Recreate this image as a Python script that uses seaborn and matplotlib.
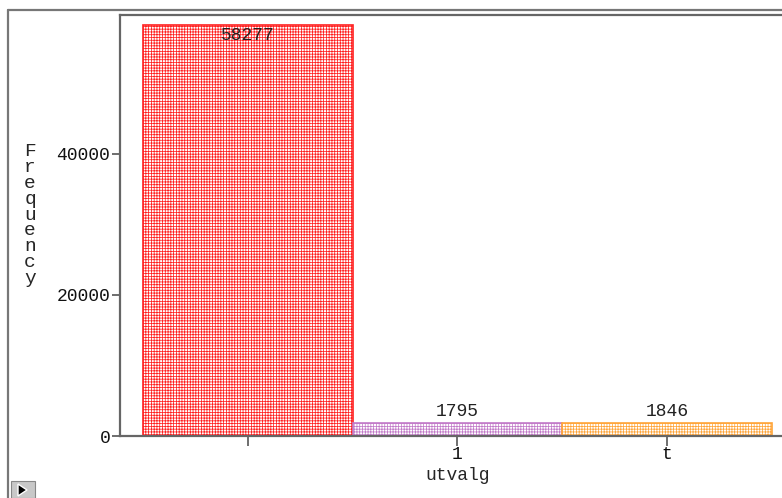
import matplotlib.pyplot as plt
import matplotlib.patches as mpatches
from matplotlib.lines import Line2D
import seaborn as sns

# data
categories = ["", "1", "t"]
counts = [58277, 1795, 1846]
bar_colors = ["#ff2020", "#c27ac8", "#ffa53a"]
y_ticks = [0, 20000, 40000]

sns.set_theme(style="white")
plt.rcParams['font.family'] = ['Liberation Mono', 'DejaVu Sans Mono']
plt.rcParams['hatch.linewidth'] = 0.55

fig = plt.figure(figsize=(7.82, 4.98), dpi=100)
ax = fig.add_axes([120 / 782, 1 - 436 / 498, 662 / 782, 421 / 498])

sns.barplot(x=categories, y=counts, hue=categories, palette=bar_colors,
            order=categories, hue_order=categories, width=1, legend=False,
            ax=ax)

for patch, col in zip(ax.patches, bar_colors):
    patch.set_facecolor("white")
    patch.set_edgecolor(col)
    patch.set_hatch("++++++")
    patch.set_linewidth(1.2)

ax.set_xlim(-0.612, 2.55)
ax.set_ylim(0, 59716)

# value labels
for i, v in enumerate(counts):
    if v > 55000:
        ax.text(i, v - 300, f"{v}", ha="center", va="top", fontsize=13, color="#222222")
    else:
        ax.text(i, v + 450, f"{v}", ha="center", va="bottom", fontsize=13, color="#222222")

ax.set_yticks(y_ticks)
ax.set_yticklabels([str(t) for t in y_ticks], fontsize=13)
ax.set_xticks(range(len(categories)))
ax.set_xticklabels(categories, fontsize=13)
ax.tick_params(axis="both", direction="out", length=6, width=1.2, color="#555555",
               labelcolor="#111111", left=True, bottom=True, pad=1)
ax.tick_params(axis="x", length=7, pad=0)
ax.set_xlabel("utvalg", fontsize=13)
ax.xaxis.set_label_coords((458 - 120) / 662, -0.074)
ax.xaxis.label.set_verticalalignment("top")
ax.set_ylabel("")

for name in ["left", "top", "bottom"]:
    ax.spines[name].set_visible(True)
    ax.spines[name].set_color("#666666")
    ax.spines[name].set_linewidth(1.6)
ax.spines["right"].set_visible(False)

# stacked vertical y label
fig.text(30 / 782, 1 - 215 / 498, "\n".join("Frequency"), ha="center", va="center",
         fontsize=14, linespacing=0.92)

# outer window frame
fig.add_artist(Line2D([8 / 782, 8 / 782], [0, 1 - 10 / 498], color="#777777", lw=1.6))
fig.add_artist(Line2D([8 / 782, 1], [1 - 10 / 498, 1 - 10 / 498], color="#777777", lw=1.6))

# small play button bottom-left
fig.add_artist(mpatches.Rectangle((11 / 782, 0), 24 / 782, 17 / 498, facecolor="#c8c8c8",
                                  edgecolor="#888888", lw=0.8, transform=fig.transFigure))
fig.add_artist(mpatches.Polygon([[18 / 782, 2 / 498], [18 / 782, 14 / 498], [27 / 782, 8 / 498]],
                                closed=True, facecolor="black", transform=fig.transFigure))

fig.savefig("out.png", dpi=100)
